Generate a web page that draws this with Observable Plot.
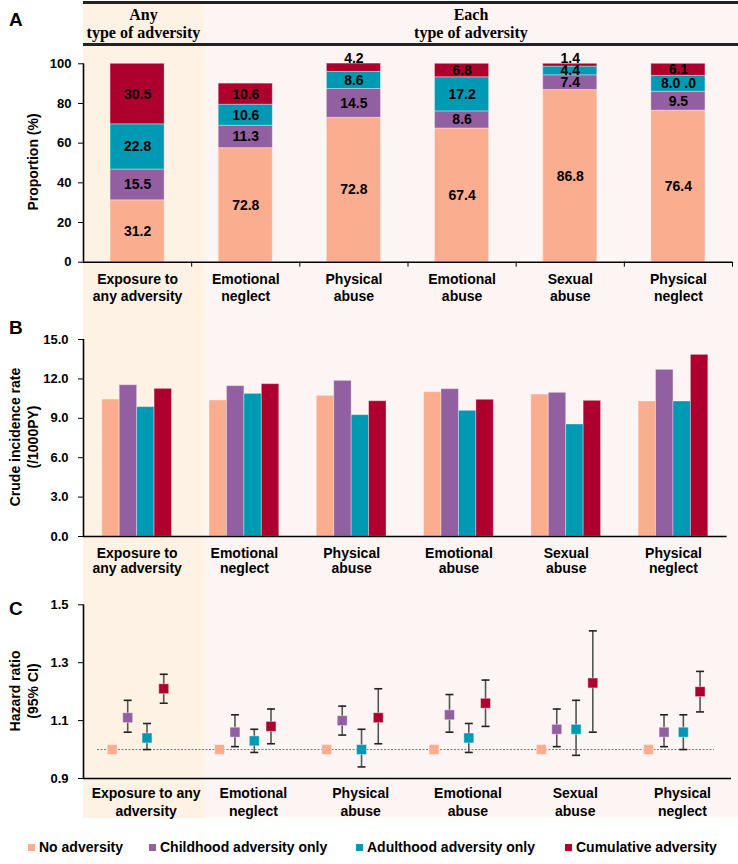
<!DOCTYPE html>
<html>
<head>
<meta charset="utf-8">
<script src="https://cdn.jsdelivr.net/npm/d3@7"></script>
<script src="https://cdn.jsdelivr.net/npm/@observablehq/plot@0.6"></script>
<style>
  body { margin: 0; background: #fff; }
  #fig { position: relative; width: 738px; height: 864px; overflow: hidden;
         font-family: "Liberation Sans", Arial, Helvetica, sans-serif; font-weight: bold; color: #000; }
  .abs { position: absolute; }
  .bg-any { left: 83px; top: 3px; width: 121px; height: 815px; background: #FDF2E4; }
  .bg-each { left: 204px; top: 3px; width: 534px; height: 815px; background: #FDF4F4; }
  .hline { left: 83px; width: 655px; height: 2.5px; background: #222; }
  .hcell { top: 6px; text-align: center; font-family: "Liberation Serif", "Times New Roman", serif;
           font-weight: bold; font-size: 16px; line-height: 18px; }
  .plabel { left: 9px; font-size: 19px; line-height: 19px; font-weight: bold; }
  .panel { left: 0; }
  .ytitle { width: 240px; text-align: center; font-size: 14px; line-height: 18px; white-space: nowrap;
            transform: translate(-50%, -50%) rotate(-90deg); }
  .litem { top: 839px; display: flex; align-items: center; gap: 4px; font-size: 14px; line-height: 16px; white-space: nowrap; }
  .litem .sw { width: 7px; height: 7px; display: inline-block; }
</style>
</head>
<body>
<div id="fig">
  <div class="abs bg-any"></div>
  <div class="abs bg-each"></div>
  <div class="abs hline" style="top:1px"></div>
  <div class="abs hline" style="top:43px"></div>
  <div class="abs hcell" style="left:83px;width:121px">Any<br>type of adversity</div>
  <div class="abs hcell" style="left:204px;width:534px">Each<br>type of adversity</div>
  <div class="abs plabel" style="top:10px">A</div>
  <div class="abs plabel" style="top:318px">B</div>
  <div class="abs plabel" style="top:599px">C</div>
  <div class="abs panel" id="pA" style="top:46px"></div>
  <div class="abs panel" id="pB" style="top:306px"></div>
  <div class="abs panel" id="pC" style="top:578px"></div>
  <div class="abs ytitle" style="left:33px;top:162px">Proportion (%)</div>
  <div class="abs ytitle" style="left:24px;top:437px">Crude incidence rate<br>(/1000PY)</div>
  <div class="abs ytitle" style="left:24px;top:691px">Hazard ratio<br>(95% CI)</div>
  <div id="legend"></div>
</div>
<script>
// ---------- data ----------
const categories = ["Exposure to any adversity", "Emotional neglect", "Physical abuse", "Emotional abuse", "Sexual abuse", "Physical neglect"];
const labelsAB = ["Exposure to\nany adversity", "Emotional\nneglect", "Physical\nabuse", "Emotional\nabuse", "Sexual\nabuse", "Physical\nneglect"];
const labelsC = ["Exposure to any\nadversity", "Emotional\nneglect", "Physical\nabuse", "Emotional\nabuse", "Sexual\nabuse", "Physical\nneglect"];
const series = ["No adversity", "Childhood adversity only", "Adulthood adversity only", "Cumulative adversity"];
const colors = ["#FBAD8F", "#925FA0", "#0099B3", "#AD002E"];

// Panel A: proportion (%) bar heights and printed labels
const propNone = [31.2, 57.5, 72.8, 67.4, 86.8, 76.4];
const propChild = [15.5, 11.3, 14.5, 8.6, 7.4, 9.5];
const propAdult = [22.8, 10.6, 8.6, 17.2, 4.4, 8.0];
const propCum = [30.5, 10.6, 4.2, 6.8, 1.4, 6.1];
const propLabelNone = ["31.2", "72.8", "72.8", "67.4", "86.8", "76.4"];
const propLabelChild = ["15.5", "11.3", "14.5", "8.6", "7.4", "9.5"];
const propLabelAdult = ["22.8", "10.6", "8.6", "17.2", "4.4", "8.0 .0"];
const propLabelCum = ["30.5", "10.6", "4.2", "6.8", "1.4", "6.1"];
const propTicks = [0, 20, 40, 60, 80, 100];

// Panel B: crude incidence rate (/1000PY)
const rateNone = [10.43, 10.36, 10.71, 10.99, 10.81, 10.28];
const rateChild = [11.52, 11.45, 11.85, 11.22, 10.94, 12.69];
const rateAdult = [9.85, 10.86, 9.24, 9.57, 8.53, 10.28];
const rateCum = [11.24, 11.60, 10.30, 10.41, 10.33, 13.83];
const rateTicks = [0, 3, 6, 9, 12, 15];

// Panel C: hazard ratio (95% CI)
const hrNone = [1.00, 1.00, 1.00, 1.00, 1.00, 1.00];
const hrChild = [1.11, 1.06, 1.10, 1.12, 1.07, 1.06];
const loChild = [1.06, 1.01, 1.05, 1.06, 1.01, 1.01];
const hiChild = [1.17, 1.12, 1.15, 1.19, 1.14, 1.12];
const hrAdult = [1.04, 1.03, 1.00, 1.04, 1.07, 1.06];
const loAdult = [1.00, 0.99, 0.94, 0.99, 0.98, 1.00];
const hiAdult = [1.09, 1.07, 1.07, 1.09, 1.17, 1.12];
const hrCum = [1.21, 1.08, 1.11, 1.16, 1.23, 1.20];
const loCum = [1.16, 1.02, 1.02, 1.08, 1.06, 1.13];
const hiCum = [1.26, 1.14, 1.21, 1.24, 1.41, 1.27];
const hrTicks = [0.9, 1.1, 1.3, 1.5];

// ---------- build tables ----------
const font = '"Liberation Sans", Arial, Helvetica, sans-serif';
const style = {background: "transparent", fontFamily: font, fontSize: "13px", fontWeight: "bold", color: "#000", overflow: "visible"};
const color = {domain: series, range: colors};

const propVals = [propNone, propChild, propAdult, propCum];
const propLabs = [propLabelNone, propLabelChild, propLabelAdult, propLabelCum];
const dataA = [];
categories.forEach((c, i) => {
  let acc = 0;
  propVals.forEach((arr, j) => {
    const v = arr[i];
    dataA.push({i, cat: c, series: series[j], v, y1: acc, y2: acc + v, label: propLabs[j][i], top: j === propVals.length - 1});
    acc += v;
  });
});
const labInside = dataA.filter(d => !(d.top && d.v < 5));
const labAbove = dataA.filter(d => d.top && d.v < 5);

const rateVals = [rateNone, rateChild, rateAdult, rateCum];
const dataB = [];
categories.forEach((c, i) => rateVals.forEach((arr, j) => dataB.push({i, j, cat: c, series: series[j], v: arr[i]})));

const hrVals = [hrNone, hrChild, hrAdult, hrCum];
const loVals = [null, loChild, loAdult, loCum];
const hiVals = [null, hiChild, hiAdult, hiCum];
const offC = [-0.232, -0.088, 0.092, 0.248];
const dataC = [];
categories.forEach((c, i) => hrVals.forEach((arr, j) => dataC.push({
  i, j, cat: c, series: series[j], x: i + 0.5 + offC[j], hr: arr[i],
  lo: loVals[j] ? loVals[j][i] : null, hi: hiVals[j] ? hiVals[j][i] : null
})));
const withCI = dataC.filter(d => d.lo != null);
const caps = withCI.flatMap(d => [{x: d.x, y: d.lo}, {x: d.x, y: d.hi}]);
const capSymbol = {draw(ctx) { ctx.moveTo(-4, 0); ctx.lineTo(4, 0); }};

const txt = {fill: "#000", fontWeight: "bold"};

// ---------- Panel A ----------
const plotA = Plot.plot({
  width: 738, height: 260, marginLeft: 83, marginRight: 6, marginTop: 17.3, marginBottom: 44.3,
  style, color,
  x: {domain: [0, 6]},
  y: {domain: [0, 100]},
  marks: [
    Plot.rect(dataA, {x1: d => d.i + 0.25, x2: d => d.i + 0.75, y1: "y1", y2: "y2", fill: "series",
      stroke: "#fff", strokeOpacity: 0.35, strokeWidth: 1}),
    Plot.text(labInside, {x: d => d.i + 0.5, y: d => (d.y1 + d.y2) / 2, text: "label", fontSize: 14, ...txt}),
    Plot.text(labAbove, {x: d => d.i + 0.5, y: "y2", text: "label", fontSize: 14, dy: -5, ...txt}),
    Plot.ruleY([0], {strokeWidth: 1.6}),
    Plot.ruleX([0], {strokeWidth: 1.6}),
    Plot.axisY({ticks: propTicks, tickSize: 5, tickPadding: 7, label: null, fontSize: 13}),
    Plot.axisX({ticks: d3.range(1, 7), tickSize: 5, tickFormat: () => "", label: null}),
    Plot.text(labelsAB, {x: (d, i) => i + 0.5, y: 0, lineAnchor: "top", dy: 10, fontSize: 14, lineHeight: 1.19, ...txt})
  ]
});
document.getElementById("pA").append(plotA);

// ---------- Panel B ----------
const bw = 0.1625;
const plotB = Plot.plot({
  width: 738, height: 272, marginLeft: 83, marginRight: 11.4, marginTop: 33, marginBottom: 42,
  style, color,
  x: {domain: [0, 6], axis: null},
  y: {domain: [0, 15]},
  marks: [
    Plot.rect(dataB, {x1: d => d.i + 0.175 + d.j * bw, x2: d => d.i + 0.175 + (d.j + 1) * bw, y1: 0, y2: "v",
      fill: "series", stroke: "#fff", strokeOpacity: 0.35, strokeWidth: 1}),
    Plot.ruleY([0], {strokeWidth: 1.6}),
    Plot.ruleX([0], {strokeWidth: 1.6}),
    Plot.axisY({ticks: rateTicks, tickFormat: d3.format(".1f"), tickSize: 5, tickPadding: 10, label: null, fontSize: 13}),
    Plot.text(labelsAB, {x: (d, i) => i + 0.5, y: 0, lineAnchor: "top", dy: 10, fontSize: 14, lineHeight: 1.11, ...txt})
  ]
});
document.getElementById("pB").append(plotB);

// ---------- Panel C ----------
const plotC = Plot.plot({
  width: 738, height: 250, marginLeft: 83, marginRight: 7, marginTop: 26.3, marginBottom: 50,
  style, color,
  x: {domain: [0, 6], range: [83, 726.6], axis: null},
  y: {domain: [0.9, 1.5]},
  marks: [
    Plot.ruleY([1], {stroke: "#777", strokeWidth: 1, strokeDasharray: "2,1.5", insetLeft: 14, insetRight: 17}),
    Plot.ruleX(withCI, {x: "x", y1: "lo", y2: "hi", stroke: "#555", strokeWidth: 1.6}),
    Plot.dot(caps, {x: "x", y: "y", symbol: capSymbol, fill: "none", stroke: "#222", strokeWidth: 1.6}),
    Plot.dot(dataC, {x: "x", y: "hr", symbol: "square", r: 5.6, fill: "series", stroke: "#fff", strokeOpacity: 0.4, strokeWidth: 1}),
    Plot.ruleY([0.9], {strokeWidth: 1.6}),
    Plot.ruleX([0], {strokeWidth: 1.6}),
    Plot.axisY({ticks: hrTicks, tickFormat: d3.format(".1f"), tickSize: 5, tickPadding: 10, label: null, fontSize: 13}),
    Plot.text(labelsC, {x: (d, i) => i + 0.5, y: 0.9, lineAnchor: "top", dy: 6.5, dx: 9, fontSize: 14, lineHeight: 1.3, ...txt})
  ]
});
document.getElementById("pC").append(plotC);

// ---------- Legend ----------
const legendLeft = [28, 149, 356, 565];
const fig = document.getElementById("fig");
series.forEach((s, j) => {
  const item = document.createElement("div");
  item.className = "abs litem";
  item.style.left = legendLeft[j] + "px";
  const sw = document.createElement("span");
  sw.className = "sw";
  sw.style.background = colors[j];
  item.append(sw, document.createTextNode(s));
  fig.append(item);
});
</script>
</body>
</html>
